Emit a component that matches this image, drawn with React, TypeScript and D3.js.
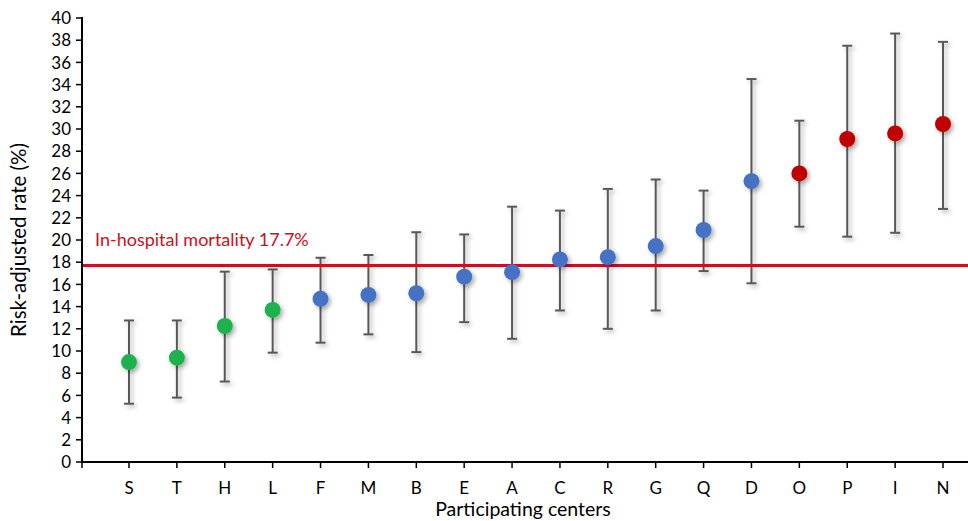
import React from "react";
import * as d3 from "d3";

// centers, sorted by risk-adjusted rate
const centers = ["S", "T", "H", "L", "F", "M", "B", "E", "A", "C", "R", "G", "Q", "D", "O", "P", "I", "N"];
const rates = [9.0, 9.4, 12.25, 13.7, 14.7, 15.05, 15.2, 16.7, 17.1, 18.25, 18.45, 19.45, 20.9, 25.3, 26.0, 29.1, 29.6, 30.45];
const upper = [12.75, 12.75, 17.15, 17.35, 18.4, 18.65, 20.7, 20.5, 23.0, 22.65, 24.6, 25.45, 24.45, 34.5, 30.75, 37.5, 38.6, 37.85];
const lower = [5.25, 5.8, 7.25, 9.85, 10.75, 11.5, 9.9, 12.6, 11.1, 13.65, 12.0, 13.65, 17.2, 16.1, 21.2, 20.3, 20.65, 22.8];
const groups = ["low", "low", "low", "low", "mid", "mid", "mid", "mid", "mid", "mid", "mid", "mid", "mid", "mid", "high", "high", "high", "high"];
const yTicks = d3.range(0, 41, 2);
const overallRate = 17.7;

const groupColor: Record<string, string> = {
  low: "#1db34f",
  mid: "#4472c4",
  high: "#c00000",
};

const W = 968;
const H = 521;
const font = "Lato, 'Open Sans', sans-serif";

export default function App() {
  const axisX = 82;
  const y = d3.scaleLinear().domain([0, 40]).range([462, 18]);
  const x = d3.scalePoint<string>().domain(centers).range([129, 943]);

  const y0 = y(0);

  return (
    <svg
      width={W}
      height={H}
      style={{ position: "absolute", left: 0, top: 0, background: "#fff" }}
      fontFamily={font}
    >
      <defs>
        <filter id="shadow" x="-50%" y="-50%" width="200%" height="200%">
          <feDropShadow dx="2.5" dy="2.5" stdDeviation="2" floodColor="#000" floodOpacity="0.3" />
        </filter>
      </defs>

      {/* y axis */}
      <line x1={axisX} x2={axisX} y1={y(40) - 1} y2={y0 + 1} stroke="#000" strokeWidth={2} />
      {yTicks.map((t) => (
        <g key={t}>
          <line x1={axisX - 6} x2={axisX} y1={y(t)} y2={y(t)} stroke="#000" strokeWidth={1.5} />
          <text x={axisX - 11} y={y(t)} dy="0.36em" textAnchor="end" fontSize={17} fill="#000">
            {t}
          </text>
        </g>
      ))}
      <text
        transform={`translate(26,${y(20)}) rotate(-90)`}
        textAnchor="middle"
        fontSize={20.5}
        fill="#000"
      >
        Risk-adjusted rate (%)
      </text>

      {/* x axis */}
      <line x1={axisX - 1} x2={W} y1={y0} y2={y0} stroke="#000" strokeWidth={2} />
      <line x1={axisX} x2={axisX} y1={y0} y2={y0 + 6} stroke="#000" strokeWidth={1.5} />
      {centers.map((c) => (
        <g key={c}>
          <line x1={x(c)} x2={x(c)} y1={y0} y2={y0 + 6} stroke="#000" strokeWidth={1.5} />
          <text x={x(c)} y={y0 + 32} textAnchor="middle" fontSize={17} fill="#000">
            {c}
          </text>
        </g>
      ))}
      <text x={523} y={516} textAnchor="middle" fontSize={19.5} fill="#000">
        Participating centers
      </text>

      {/* error bars */}
      <g filter="url(#shadow)">
        {centers.map((c, i) => (
          <g key={c} stroke="#595959" strokeWidth={2}>
            <line x1={x(c)} x2={x(c)} y1={y(upper[i])} y2={y(lower[i])} />
            <line x1={x(c)! - 5} x2={x(c)! + 5} y1={y(upper[i])} y2={y(upper[i])} />
            <line x1={x(c)! - 5} x2={x(c)! + 5} y1={y(lower[i])} y2={y(lower[i])} />
          </g>
        ))}
      </g>

      {/* overall mortality reference */}
      <line x1={axisX + 1} x2={W} y1={y(overallRate)} y2={y(overallRate)} stroke="#d00d1e" strokeWidth={3} />
      <text x={95} y={y(overallRate) - 20} fontSize={18} fill="#d00d1e">
        In-hospital mortality 17.7%
      </text>

      {/* points */}
      <g filter="url(#shadow)">
        {centers.map((c, i) => (
          <circle key={c} cx={x(c)} cy={y(rates[i])} r={8} fill={groupColor[groups[i]]} />
        ))}
      </g>
    </svg>
  );
}
